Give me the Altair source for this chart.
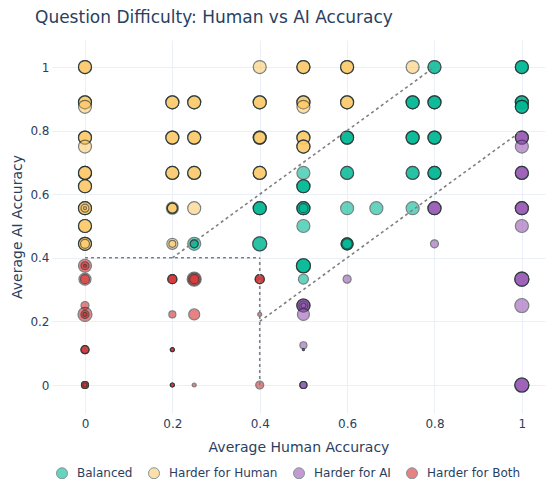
import altair as alt
import pandas as pd

categories = ["Balanced", "Harder for Human", "Harder for AI", "Harder for Both"]
palette = ["#00b894", "#fdcb6e", "#9b59b6", "#d63031"]

# one entry per marker group: human accuracy, AI accuracy, category code, marker diameter, overlapping count
human_acc = [
    0, 0, 0, 0, 0, 0, 0, 0, 0, 0, 0, 0, 0, 0, 0, 0, 0, 0, 0, 0, 0, 0, 0, 0, 0, 0, 0,
    0.2, 0.2, 0.2, 0.2, 0.2, 0.2, 0.2, 0.2, 0.2, 0.2, 0.2,
    0.25, 0.25, 0.25, 0.25, 0.25, 0.25, 0.25, 0.25, 0.25, 0.25, 0.25,
    0.4, 0.4, 0.4, 0.4, 0.4, 0.4, 0.4, 0.4, 0.4, 0.4,
    0.5, 0.5, 0.5, 0.5, 0.5, 0.5, 0.5, 0.5, 0.5, 0.5, 0.5, 0.5, 0.5, 0.5, 0.5, 0.5, 0.5, 0.5, 0.5,
    0.6, 0.6, 0.6, 0.6, 0.6, 0.6, 0.6, 0.6,
    0.667,
    0.75, 0.75, 0.75, 0.75, 0.75,
    0.8, 0.8, 0.8, 0.8, 0.8, 0.8,
    1, 1, 1, 1, 1, 1, 1, 1, 1, 1, 1,
]
ai_acc = [
    1.0, 0.889, 0.875, 0.778, 0.75, 0.667, 0.667, 0.625, 0.556, 0.556, 0.556, 0.5, 0.444, 0.444,
    0.375, 0.375, 0.375, 0.333, 0.333, 0.25, 0.222, 0.222, 0.222, 0.111, 0, 0, 0.667,
    0.889, 0.778, 0.667, 0.556, 0.556, 0.444, 0.444, 0.333, 0.222, 0.111, 0,
    0.889, 0.778, 0.667, 0.556, 0.444, 0.444, 0.333, 0.333, 0.333, 0.222, 0,
    1.0, 0.889, 0.778, 0.778, 0.667, 0.556, 0.444, 0.333, 0.222, 0,
    1.0, 0.889, 0.875, 0.778, 0.75, 0.667, 0.625, 0.556, 0.556, 0.5, 0.375, 0.333, 0.25, 0.25, 0.25,
    0.222, 0.125, 0.111, 0,
    1.0, 0.889, 0.778, 0.667, 0.556, 0.444, 0.444, 0.333,
    0.556,
    1.0, 0.889, 0.778, 0.667, 0.556,
    1.0, 0.889, 0.778, 0.667, 0.556, 0.444,
    1.0, 0.889, 0.875, 0.778, 0.75, 0.667, 0.556, 0.5, 0.333, 0.25, 0,
]
category = [
    1, 1, 1, 1, 1, 1, 1, 1, 1, 1, 1, 1, 1, 1, 3, 3, 3, 3, 3, 3, 3, 3, 3, 3, 3, 3, 1,
    1, 1, 1, 1, 1, 1, 1, 3, 3, 3, 3,
    1, 1, 1, 1, 0, 0, 3, 3, 3, 3, 3,
    1, 1, 1, 1, 1, 0, 0, 3, 3, 3,
    1, 1, 1, 1, 1, 0, 0, 0, 0, 0, 0, 0, 2, 2, 2, 2, 2, 2, 2,
    1, 1, 0, 0, 0, 0, 0, 2,
    0,
    1, 0, 0, 0, 0,
    0, 0, 0, 0, 2, 2,
    0, 0, 0, 2, 2, 2, 2, 2, 2, 2, 2,
]
marker_d = [
    13, 13, 13, 13, 13, 13, 13, 13, 13, 8, 3, 13, 13, 9, 13, 8, 3, 12, 9, 8, 14, 8, 4, 8, 7, 4, 9,
    13, 13, 13, 12, 10, 11, 7, 9, 7, 4, 4,
    13, 13, 13, 13, 13, 8, 14, 12, 9, 11, 4,
    13, 13, 13, 12, 13, 13, 14, 9, 4, 8,
    13, 13, 13, 13, 13, 13, 13, 13, 9, 13, 14, 10, 13, 9, 5, 12, 7, 2, 7,
    13, 13, 13, 13, 13, 12, 10, 8,
    13,
    13, 13, 13, 13, 13,
    13, 13, 13, 13, 13, 8,
    13, 13, 13, 13, 13, 13, 13, 13, 14, 14, 14,
]
overlap = [
    3, 3, 1, 3, 1, 3, 1, 3, 3, 1, 1, 3, 3, 1, 1, 1, 1, 1, 1, 1, 1, 1, 1, 3, 3, 1, 0,
    3, 3, 3, 1, 3, 1, 1, 3, 1, 3, 3,
    3, 3, 3, 1, 1, 2, 1, 1, 1, 1, 1,
    1, 3, 3, 1, 3, 3, 2, 3, 1, 1,
    3, 3, 1, 3, 3, 1, 3, 3, 1, 1, 3, 1, 3, 1, 1, 1, 1, 2, 3,
    3, 3, 3, 2, 1, 3, 1, 1,
    1,
    1, 3, 3, 2, 1,
    2, 3, 3, 3, 3, 1,
    3, 3, 3, 3, 1, 3, 3, 1, 3, 1, 3,
]

# dotted guide segments
seg_x1 = [0.2, 0.4, 0.0, 0.4]
seg_y1 = [0.4, 0.2, 0.4, 0.0]
seg_x2 = [0.8, 1.0, 0.4, 0.4]
seg_y2 = [1.0, 0.8, 0.4, 0.4]

pts = pd.DataFrame({
    "human": human_acc,
    "ai": ai_acc,
    "difficulty": [categories[c] for c in category],
    "d": marker_d,
    "n": overlap,
})
pts = pts.loc[pts.index.repeat(pts["n"])].reset_index(drop=True)
pts["area"] = pts["d"] ** 2
pts["order"] = range(len(pts))

segs = pd.DataFrame({"x1": seg_x1, "y1": seg_y1, "x2": seg_x2, "y2": seg_y2})

FONT = "DejaVu Sans"
TXT = "#2a3f5f"
GRID = "#EBF0F8"

xscale = alt.Scale(domain=[-0.0755, 1.053], nice=False, zero=False)
yscale = alt.Scale(domain=[-0.088, 1.085], nice=False, zero=False)
ticks = [0, 0.2, 0.4, 0.6, 0.8, 1]

xaxis = alt.Axis(title="Average Human Accuracy", values=ticks, format="~g", grid=True,
                 gridColor=GRID, domain=False, ticks=False, tickSize=0, labelPadding=5,
                 labelFlush=False, labelFont=FONT, labelFontSize=12, labelColor=TXT,
                 titleFont=FONT, titleFontSize=14, titleColor=TXT, titleFontWeight="normal",
                 titlePadding=11)
yaxis = alt.Axis(title="Average AI Accuracy", values=ticks, format="~g", grid=True,
                 gridColor=GRID, domain=False, ticks=False, tickSize=0, labelPadding=3,
                 labelFlush=False, labelFont=FONT, labelFontSize=12, labelColor=TXT,
                 titleFont=FONT, titleFontSize=14, titleColor=TXT, titleFontWeight="normal",
                 titlePadding=5)

points = alt.Chart(pts).mark_point(
    filled=True, shape="circle", opacity=0.6, stroke="#1f2f2f", strokeWidth=1.2
).encode(
    x=alt.X("human:Q", scale=xscale, axis=xaxis),
    y=alt.Y("ai:Q", scale=yscale, axis=yaxis),
    color=alt.Color("difficulty:N", scale=alt.Scale(domain=categories, range=palette),
                    legend=alt.Legend(orient="none", legendX=4, legendY=427,
                                      direction="horizontal", title=None, columns=4,
                                      labelFont=FONT, labelFontSize=12, labelColor=TXT,
                                      symbolType="circle", symbolSize=121, symbolOpacity=0.6,
                                      symbolStrokeColor="#2F4F4F", symbolStrokeWidth=1,
                                      columnPadding=13, labelOffset=9)),
    size=alt.Size("area:Q", scale=None, legend=None),
    order=alt.Order("order:Q"),
)

lines = alt.Chart(segs).mark_rule(
    color="#808080", strokeWidth=1.6, strokeDash=[3, 3]
).encode(
    x=alt.X("x1:Q", scale=xscale),
    y=alt.Y("y1:Q", scale=yscale),
    x2="x2:Q",
    y2="y2:Q",
)

chart = alt.layer(points, lines).properties(
    width=493,
    height=373,
    title=alt.TitleParams("Question Difficulty: Human vs AI Accuracy", anchor="start",
                          frame="group", dx=-17, offset=13,
                          fontSize=17, font=FONT, color=TXT, fontWeight="normal"),
    autosize=alt.AutoSizeParams(type="none"),
    padding={"left": 44, "top": 32, "right": 2, "bottom": 66},
).configure_view(stroke=None)

chart.save("out.html", embed_options={"renderer": "svg", "actions": False})
